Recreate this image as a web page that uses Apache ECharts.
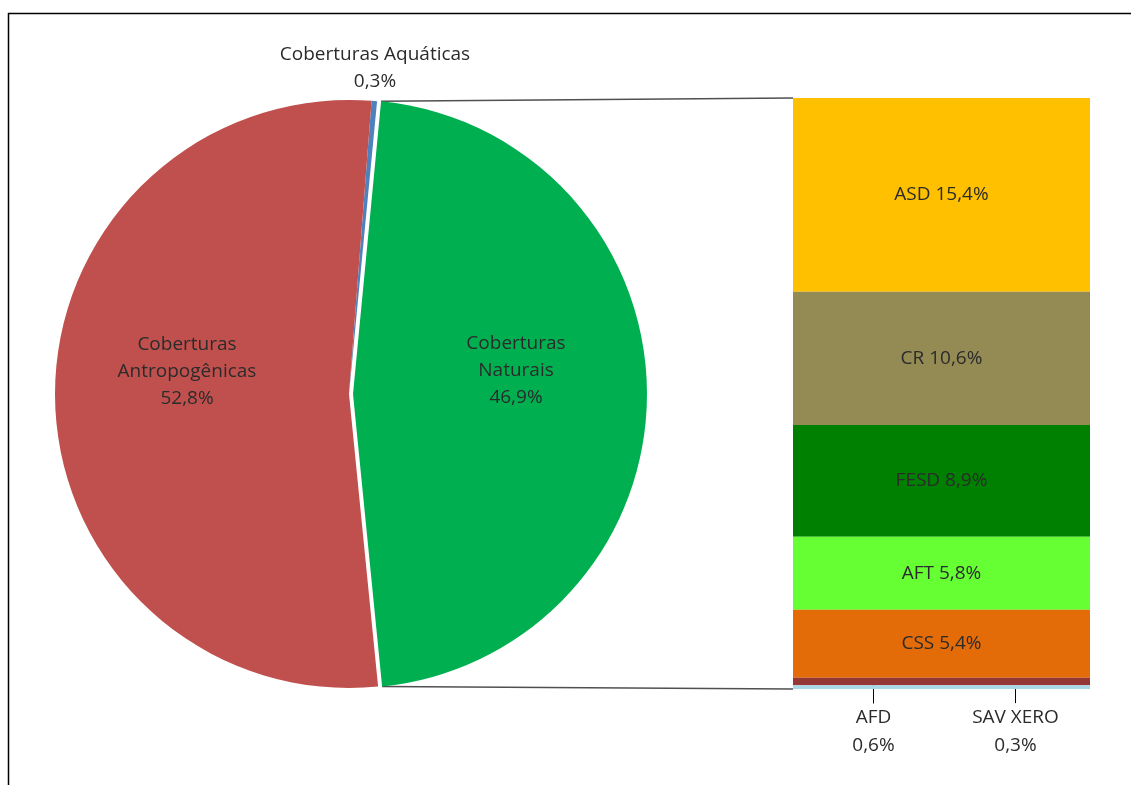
<!DOCTYPE html>
<html>
<head>
<meta charset="utf-8">
<script src="https://cdn.jsdelivr.net/npm/echarts@6/dist/echarts.min.js"></script>
<style>
html,body{margin:0;padding:0;background:#fff;}
#chart{width:1131px;height:785px;}
</style>
</head>
<body>
<div id="chart"></div>
<script>
// ---- data ----
const pieNames = ['Coberturas Aquáticas', 'Coberturas Naturais', 'Coberturas Antropogênicas'];
const pieValues = [0.3, 46.9, 52.8];
const pieColors = ['#4F81BD', '#00B050', '#C0504D'];

const barNames = ['ASD', 'CR', 'FESD', 'AFT', 'CSS', 'AFD', 'SAV XERO'];
const barValues = [15.4, 10.6, 8.9, 5.8, 5.4, 0.6, 0.3];
const barColors = ['#FFC000', '#948A54', '#008000', '#66FF33', '#E36C09', '#953735', '#A9D8E6'];

// ---- layout ----
const FONT = 'Open Sans';
const FS = 19;
const TXT = '#2b2b2b';
const cx = 349, cy = 394, R = 294;
const startAngle = 85.6;
const explode = 4;
const gridLeft = 793, gridRight = 41, gridTop = 98, gridBottom = 96;

const fmt = v => v.toFixed(1).replace('.', ',') + '%';
const barTotal = barValues.reduce((a, b) => a + b, 0);
const pieTotal = pieValues.reduce((a, b) => a + b, 0);

const chart = echarts.init(document.getElementById('chart'), null, {renderer: 'canvas'});

const pieData = pieNames.map((n, i) => ({
  name: n,
  value: pieValues[i],
  selected: i === 1,
  itemStyle: {color: pieColors[i]}
}));

const pieLabelShift = {
  0: null,
  1: {dx: 13, dy: -23},
  2: {dx: -12, dy: -24}
};

const smallLabelShift = {5: {dx: -68, dy: 50}, 6: {dx: 74, dy: 44}};

const barSeries = barNames.map((n, i) => {
  const small = i >= 5;
  const s = {
    type: 'bar',
    name: n,
    stack: 'total',
    xAxisIndex: 0,
    yAxisIndex: 0,
    barWidth: '100%',
    data: [barValues[i]],
    itemStyle: {color: barColors[i]},
    silent: true,
    label: {
      show: true,
      position: 'inside',
      fontFamily: FONT,
      fontSize: FS,
      color: TXT,
      lineHeight: 28,
      formatter: small ? (n + '\n' + fmt(barValues[i])) : (n + ' ' + fmt(barValues[i]))
    }
  };
  if (small) {
    s.labelLayout = smallLabelShift[i];
    s.labelLine = {show: true, lineStyle: {color: '#000', width: 1}};
  }
  return s;
});

// connector lines from the exploded slice edge to the bar
const pct = pieValues.map(v => v / pieTotal * 360);
const a1 = (startAngle - pct[0]) * Math.PI / 180;
const a2 = (startAngle - pct[0] - pct[1]) * Math.PI / 180;
const am = (a1 + a2) / 2;
const ox = explode * Math.cos(am), oy = -explode * Math.sin(am);
const p1 = [cx + R * Math.cos(a1) + ox, cy - R * Math.sin(a1) + oy];
const p2 = [cx + R * Math.cos(a2) + ox, cy - R * Math.sin(a2) + oy];
const barTopY = gridTop, barBotY = 785 - gridBottom;

const option = {
  animation: false,
  backgroundColor: '#fff',
  grid: {left: gridLeft, right: gridRight, top: gridTop, bottom: gridBottom},
  xAxis: {type: 'category', data: [''], show: false},
  yAxis: {type: 'value', min: 0, max: barTotal, inverse: true, show: false},
  graphic: [
    {type: 'line', shape: {x1: 8, y1: 13.5, x2: 1131, y2: 13.5}, style: {stroke: '#000', lineWidth: 1.5}},
    {type: 'line', shape: {x1: 8.5, y1: 13, x2: 8.5, y2: 785}, style: {stroke: '#000', lineWidth: 1.5}},
    {type: 'line', shape: {x1: p1[0], y1: p1[1], x2: gridLeft, y2: barTopY}, style: {stroke: '#505050', lineWidth: 1.5}},
    {type: 'line', shape: {x1: p2[0], y1: p2[1], x2: gridLeft, y2: barBotY}, style: {stroke: '#505050', lineWidth: 1.5}}
  ],
  series: [
    {
      type: 'pie',
      center: [cx, cy],
      radius: [0, R],
      startAngle: startAngle,
      clockwise: true,
      selectedMode: 'single',
      selectedOffset: explode,
      silent: true,
      avoidLabelOverlap: false,
      data: pieData,
      label: {
        show: true,
        position: 'inside',
        fontFamily: FONT,
        fontSize: FS,
        color: TXT,
        lineHeight: 27,
        formatter: p => (p.dataIndex === 0 ? p.name : p.name.replace(' ', '\n')) + '\n' + fmt(p.value)
      },
      labelLine: {show: false},
      labelLayout: p => {
        if (p.dataIndex === 0) {
          return {x: 375, y: 68, align: 'center', verticalAlign: 'middle'};
        }
        return pieLabelShift[p.dataIndex];
      },
      emphasis: {disabled: true}
    },
    ...barSeries
  ]
};

chart.setOption(option);
</script>
</body>
</html>
